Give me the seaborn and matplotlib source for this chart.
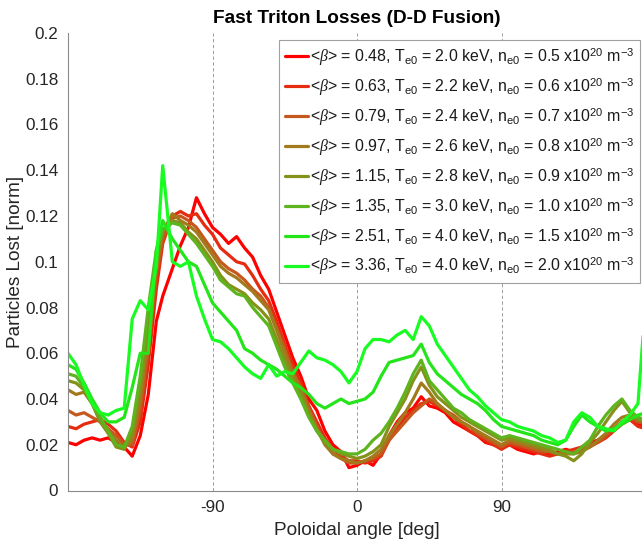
import matplotlib
matplotlib.use("Agg")
import matplotlib.pyplot as plt
import seaborn as sns
import pandas as pd

# ---------------- data ----------------
angle = [-180, -175, -170, -165, -160, -155, -150, -145, -140, -135, -130, -125, -121,
         -115, -110, -105, -100, -95, -90, -85, -80, -75, -70, -65, -60, -55, -50, -45,
         -40, -35, -30, -25, -20, -15, -10, -5, 0, 5, 10, 15, 20, 25, 30, 35, 40, 45,
         50, 55, 60, 65, 70, 75, 80, 85, 90, 95, 100, 105, 110, 115, 120, 125, 130, 135,
         140, 145, 150, 155, 160, 165, 170, 175, 180]

loss_b048 = [0.021, 0.020, 0.022, 0.023, 0.022, 0.023, 0.021, 0.019, 0.015, 0.024, 0.042, 0.074, 0.085,
             0.097, 0.107, 0.115, 0.128, 0.121, 0.115,
             0.112, 0.108, 0.111, 0.106, 0.102, 0.094, 0.088, 0.078, 0.068, 0.058,
             0.050, 0.040, 0.035, 0.026, 0.020, 0.017, 0.010, 0.011,
             0.013, 0.011, 0.016, 0.024, 0.030, 0.034, 0.036, 0.041, 0.037, 0.036, 0.034, 0.030, 0.028, 0.026, 0.024, 0.021, 0.020, 0.019,
             0.020, 0.018, 0.017, 0.016, 0.017, 0.016, 0.017, 0.018, 0.017, 0.019, 0.021, 0.022, 0.024, 0.027, 0.030, 0.031, 0.029, 0.028]

loss_b063 = [0.028, 0.027, 0.029, 0.030, 0.031, 0.029, 0.026, 0.021, 0.019, 0.030, 0.055, 0.088, 0.108,
             0.120, 0.122, 0.120, 0.121, 0.116, 0.112,
             0.106, 0.103, 0.100, 0.099, 0.094, 0.088, 0.083, 0.074, 0.064, 0.055,
             0.047, 0.037, 0.030, 0.023, 0.018, 0.015, 0.013, 0.013,
             0.012, 0.013, 0.015, 0.022, 0.027, 0.032, 0.035, 0.038, 0.039, 0.037, 0.035, 0.032, 0.029, 0.026, 0.024, 0.022, 0.020, 0.018,
             0.020, 0.019, 0.018, 0.017, 0.016, 0.015, 0.016, 0.017, 0.018, 0.019, 0.020, 0.021, 0.023, 0.026, 0.029, 0.031, 0.028, 0.027]

loss_b079 = [0.035, 0.033, 0.034, 0.032, 0.030, 0.027, 0.024, 0.020, 0.020, 0.035, 0.062, 0.094, 0.110,
             0.119, 0.120, 0.118, 0.115, 0.110, 0.105,
             0.100, 0.097, 0.095, 0.092, 0.088, 0.085, 0.080, 0.071, 0.062, 0.052,
             0.045, 0.036, 0.028, 0.021, 0.016, 0.014, 0.012, 0.012,
             0.013, 0.014, 0.016, 0.022, 0.026, 0.030, 0.034, 0.037, 0.040, 0.038, 0.035, 0.033, 0.030, 0.028, 0.025, 0.023, 0.021, 0.019,
             0.021, 0.020, 0.019, 0.018, 0.017, 0.017, 0.016, 0.016, 0.017, 0.018, 0.019, 0.021, 0.024, 0.027, 0.030, 0.032, 0.030, 0.029]

loss_b097 = [0.044, 0.042, 0.043, 0.038, 0.032, 0.026, 0.022, 0.019, 0.022, 0.040, 0.068, 0.098, 0.113,
             0.121, 0.118, 0.116, 0.113, 0.108, 0.103,
             0.098, 0.095, 0.093, 0.090, 0.087, 0.083, 0.079, 0.070, 0.060, 0.051,
             0.044, 0.035, 0.027, 0.020, 0.016, 0.014, 0.013, 0.012,
             0.013, 0.015, 0.018, 0.024, 0.029, 0.034, 0.040, 0.047, 0.043, 0.038, 0.035, 0.032, 0.030, 0.028, 0.026, 0.024, 0.022, 0.020,
             0.022, 0.021, 0.020, 0.019, 0.018, 0.017, 0.016, 0.016, 0.016, 0.017, 0.019, 0.022, 0.025, 0.029, 0.032, 0.033, 0.031, 0.030]

loss_b115 = [0.048, 0.047, 0.044, 0.038, 0.030, 0.025, 0.019, 0.018, 0.025, 0.045, 0.072, 0.100, 0.114,
             0.118, 0.117, 0.113, 0.110, 0.105, 0.100,
             0.094, 0.090, 0.088, 0.086, 0.082, 0.079, 0.075, 0.066, 0.057, 0.049,
             0.042, 0.033, 0.026, 0.021, 0.018, 0.016, 0.015, 0.014,
             0.015, 0.017, 0.020, 0.028, 0.034, 0.040, 0.048, 0.054, 0.046, 0.041, 0.038, 0.035, 0.032, 0.030, 0.028, 0.026, 0.024, 0.022,
             0.023, 0.022, 0.021, 0.020, 0.019, 0.018, 0.016, 0.015, 0.013, 0.016, 0.021, 0.025, 0.030, 0.035, 0.039, 0.034, 0.031, 0.030]

loss_b135 = [0.051, 0.050, 0.045, 0.038, 0.032, 0.026, 0.020, 0.019, 0.028, 0.050, 0.080, 0.105, 0.114,
             0.117, 0.116, 0.112, 0.108, 0.103, 0.098,
             0.092, 0.089, 0.086, 0.085, 0.080, 0.076, 0.072, 0.063, 0.054, 0.047,
             0.040, 0.032, 0.026, 0.022, 0.018, 0.017, 0.016, 0.016,
             0.018, 0.022, 0.025, 0.030, 0.036, 0.043, 0.051, 0.057, 0.048, 0.044, 0.040, 0.036, 0.034, 0.031, 0.029, 0.027, 0.025, 0.023,
             0.024, 0.023, 0.022, 0.021, 0.020, 0.019, 0.018, 0.017, 0.016, 0.019, 0.022, 0.028, 0.033, 0.037, 0.040, 0.035, 0.032, 0.031]

loss_b251 = [0.055, 0.053, 0.047, 0.040, 0.034, 0.030, 0.030, 0.032, 0.045, 0.060, 0.060, 0.105, 0.118,
             0.110, 0.105, 0.100, 0.098, 0.090, 0.082,
             0.078, 0.074, 0.070, 0.062, 0.060, 0.057, 0.055, 0.053, 0.050, 0.047,
             0.045, 0.042, 0.038, 0.036, 0.038, 0.040, 0.038, 0.039,
             0.040, 0.043, 0.050, 0.056, 0.057, 0.058, 0.059, 0.064, 0.056, 0.051, 0.048, 0.045, 0.042, 0.040, 0.038, 0.035, 0.031, 0.028,
             0.027, 0.026, 0.025, 0.024, 0.022, 0.021, 0.020, 0.022, 0.028, 0.033, 0.030, 0.028, 0.026, 0.027, 0.029, 0.031, 0.033, 0.034]

loss_b336 = [0.060, 0.055, 0.046, 0.038, 0.034, 0.033, 0.035, 0.036, 0.075, 0.083, 0.079, 0.098, 0.142,
             0.100, 0.098, 0.100, 0.085, 0.075, 0.066,
             0.065, 0.062, 0.058, 0.054, 0.051, 0.049, 0.055, 0.050, 0.052, 0.051,
             0.056, 0.061, 0.058, 0.057, 0.055, 0.052, 0.047, 0.052,
             0.062, 0.066, 0.066, 0.065, 0.068, 0.070, 0.066, 0.076, 0.072, 0.064, 0.059, 0.054, 0.049, 0.044, 0.041, 0.037, 0.034, 0.031,
             0.030, 0.028, 0.027, 0.026, 0.024, 0.023, 0.021, 0.022, 0.030, 0.034, 0.032, 0.028, 0.027, 0.026, 0.030, 0.033, 0.038, 0.085]

series_labels = [
    r'<$\beta$> = 0.48, T$_{\mathregular{e0}}$ = 2.0 keV, n$_{\mathregular{e0}}$ = 0.5 x10$^{\mathregular{20}}$ m$^{\mathregular{-3}}$',
    r'<$\beta$> = 0.63, T$_{\mathregular{e0}}$ = 2.2 keV, n$_{\mathregular{e0}}$ = 0.6 x10$^{\mathregular{20}}$ m$^{\mathregular{-3}}$',
    r'<$\beta$> = 0.79, T$_{\mathregular{e0}}$ = 2.4 keV, n$_{\mathregular{e0}}$ = 0.7 x10$^{\mathregular{20}}$ m$^{\mathregular{-3}}$',
    r'<$\beta$> = 0.97, T$_{\mathregular{e0}}$ = 2.6 keV, n$_{\mathregular{e0}}$ = 0.8 x10$^{\mathregular{20}}$ m$^{\mathregular{-3}}$',
    r'<$\beta$> = 1.15, T$_{\mathregular{e0}}$ = 2.8 keV, n$_{\mathregular{e0}}$ = 0.9 x10$^{\mathregular{20}}$ m$^{\mathregular{-3}}$',
    r'<$\beta$> = 1.35, T$_{\mathregular{e0}}$ = 3.0 keV, n$_{\mathregular{e0}}$ = 1.0 x10$^{\mathregular{20}}$ m$^{\mathregular{-3}}$',
    r'<$\beta$> = 2.51, T$_{\mathregular{e0}}$ = 4.0 keV, n$_{\mathregular{e0}}$ = 1.5 x10$^{\mathregular{20}}$ m$^{\mathregular{-3}}$',
    r'<$\beta$> = 3.36, T$_{\mathregular{e0}}$ = 4.0 keV, n$_{\mathregular{e0}}$ = 2.0 x10$^{\mathregular{20}}$ m$^{\mathregular{-3}}$',
]
series_values = [loss_b048, loss_b063, loss_b079, loss_b097, loss_b115, loss_b135, loss_b251, loss_b336]

x_ticks = [-90, 0, 90]
y_ticks = [0, 0.02, 0.04, 0.06, 0.08, 0.1, 0.12, 0.14, 0.16, 0.18, 0.2]
y_ticklabels = ["0", "0.02", "0.04", "0.06", "0.08", "0.1", "0.12", "0.14", "0.16", "0.18", "0.2"]

colors = ['#ff0000', '#e62c10', '#c6581e', '#a27a1c', '#84921a', '#5eb41e', '#24e41a', '#18fc22']

# ---------------- long-form table ----------------
rows = []
for lab, vals in zip(series_labels, series_values):
    for a, v in zip(angle, vals):
        rows.append((a, v, lab))
df = pd.DataFrame(rows, columns=["angle", "loss", "case"])

# ---------------- style ----------------
sns.set_theme(style="white")
plt.rcParams['font.family'] = ['Liberation Sans', 'DejaVu Sans']
plt.rcParams['mathtext.fontset'] = 'custom'
plt.rcParams['mathtext.rm'] = 'Liberation Sans'
plt.rcParams['mathtext.it'] = 'Liberation Serif:italic'
plt.rcParams['mathtext.bf'] = 'Liberation Sans:bold'

W, H = 642, 541
fig = plt.figure(figsize=(W / 100, H / 100), dpi=100)
ax = fig.add_axes([68 / W, (H - 490.5) / H, (646 - 68) / W, (490.5 - 33) / H])

sns.lineplot(data=df, x="angle", y="loss", hue="case", hue_order=series_labels,
             palette=colors, linewidth=2.3, errorbar=None, ax=ax, legend="full")

ax.set_xlim(-180, 180)
ax.set_ylim(0, 0.2)
ax.set_xticks(x_ticks)
ax.set_xticklabels([str(t) for t in x_ticks])
ax.set_yticks(y_ticks)
ax.set_yticklabels(y_ticklabels)

tick_col = '#262626'
ax.tick_params(axis='both', direction='in', length=4, width=0.7, color='#777777',
               labelsize=12.3, labelcolor=tick_col)
ax.tick_params(axis='y', pad=7)
ax.tick_params(axis='x', pad=7)

for s in ['top', 'right']:
    ax.spines[s].set_visible(False)
for s in ['left', 'bottom']:
    ax.spines[s].set_color('#8a8a8a')
    ax.spines[s].set_linewidth(0.8)

for t in x_ticks:
    ax.axvline(t, color='#8c8c8c', linestyle=(0, (4, 3)), linewidth=0.6, zorder=0)

ax.set_xlabel("Poloidal angle [deg]", fontsize=13.7, color=tick_col, labelpad=5)
ax.set_ylabel("Particles Lost [norm]", fontsize=13.7, color=tick_col, labelpad=1)
ax.set_title("Fast Triton Losses (D-D Fusion)", fontsize=13.7, fontweight='bold',
             color='black', pad=7)

handles, labels = ax.get_legend_handles_labels()
leg = ax.legend(handles, labels, loc='upper right',
                bbox_to_anchor=(640 / W, 1 - 40 / H), bbox_transform=fig.transFigure,
                borderaxespad=0, fontsize=11.4, frameon=True, fancybox=False,
                handlelength=1.45, handletextpad=0.12, labelspacing=0.5,
                borderpad=0.38, edgecolor='#a0a0a0', framealpha=1)
leg.get_frame().set_linewidth(0.8)
for line in leg.get_lines():
    line.set_linewidth(2.3)
for txt in leg.get_texts():
    txt.set_color('#1a1a1a')

fig.savefig("out.png", dpi=100)
